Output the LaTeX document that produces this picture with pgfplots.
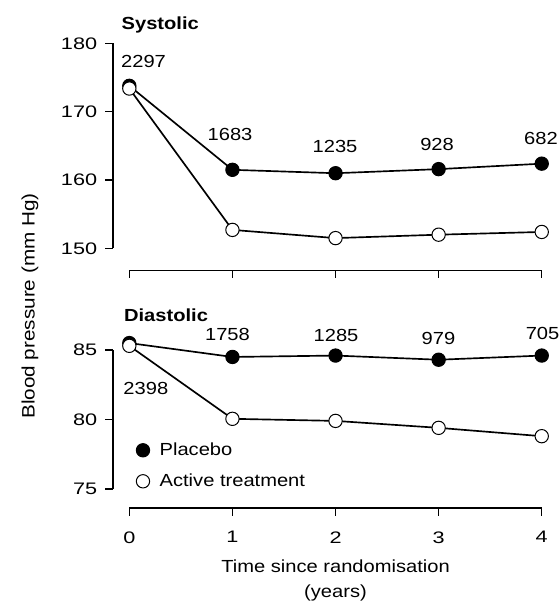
\documentclass[border=0pt]{standalone}
\usepackage{pgfplots}
\pgfplotsset{compat=1.18}
\usepackage{fontspec}
\setmainfont{Liberation Sans}[FakeStretch=1.15]
\newfontfamily\tickfont{Liberation Sans}[FakeStretch=1.3]

\newcommand{\fs}{\fontsize{10.5}{15}\selectfont}
\newcommand{\ft}{\tickfont\fontsize{10}{12}\selectfont}

\pgfplotsset{
  bp/.style={
    axis lines=left, axis line style={-, line width=0.7pt},
    tick align=outside, major tick length=4.5pt,
    tick style={line width=0.7pt, black},
    x=61.86pt, xmin=0, xmax=4, xtick={0,1,2,3,4},
    axis y line shift=9.8pt,
    clip=false,
    /pgf/number format/assume math mode=true,
    tick label style={font=\ft},
    xticklabel style={yshift=-6pt},
    yticklabel style={xshift=-1.5pt},
    every axis plot/.append style={line width=1pt, black},
  },
  pl/.style={mark=*, mark size=4pt, mark options={fill=black, line width=0.6pt}},
  ac/.style={mark=*, mark size=4pt, mark options={fill=white, line width=0.6pt}},
}

\begin{document}
\begin{tikzpicture}[font=\fs]
\path[use as bounding box] (0,0) rectangle (334.8pt,-364.2pt);

% systolic
\begin{axis}[bp, at={(77.6pt,-149pt)}, anchor=south west,
  y=4.097pt, ymin=150, ymax=180, ytick={150,160,170,180},
  xticklabels={}, axis x line shift=13.2pt]
\addplot[pl] coordinates {(0,173.8) (1,161.5) (2,161.0) (3,161.6) (4,162.4)};
\addplot[ac] coordinates {(0,173.4) (1,152.7) (2,151.5) (3,152.0) (4,152.4)};
\node[font=\fs\bfseries] at (axis cs:0.30,182.7) {Systolic};
\node at (axis cs:0.138,177.36) {2297};
\node at (axis cs:0.977,166.74) {1683};
\node at (axis cs:1.995,164.91) {1235};
\node at (axis cs:2.985,165.21) {928};
\node at (axis cs:3.993,166.08) {682};
\end{axis}

% diastolic
\begin{axis}[bp, at={(77.6pt,-293.4pt)}, anchor=south west,
  y=8.34pt, ymin=75, ymax=85, ytick={75,80,85},
  axis x line shift=11.4pt,
  legend cell align=left,
  legend style={at={(0.004,0.167)}, anchor=west, draw=none, fill=none,
    row sep=5.5pt, column sep=4pt, font=\fs}]
\addplot[pl, forget plot] coordinates {(0,85.5) (1,84.5) (2,84.6) (3,84.3) (4,84.6)};
\addplot[ac, forget plot] coordinates {(0,85.3) (1,80.05) (2,79.9) (3,79.4) (4,78.8)};
\addlegendimage{only marks, pl}
\addlegendentry{Placebo}
\addlegendimage{only marks, ac}
\addlegendentry{Active treatment}
\node[font=\fs\bfseries] at (axis cs:0.356,87.52) {Diastolic};
\node at (axis cs:0.16,82.23) {2398};
\node at (axis cs:0.952,86.12) {1758};
\node at (axis cs:2.005,86.04) {1285};
\node at (axis cs:2.999,85.83) {979};
\node at (axis cs:4.008,86.19) {705};
\node[align=center] at (axis cs:2,68.4) {Time since randomisation\\(years)};
\end{axis}

\node[rotate=90, font=\fontsize{10.8}{13}\selectfont] at (18pt,-183.6pt) {Blood pressure (mm Hg)};
\end{tikzpicture}
\end{document}
